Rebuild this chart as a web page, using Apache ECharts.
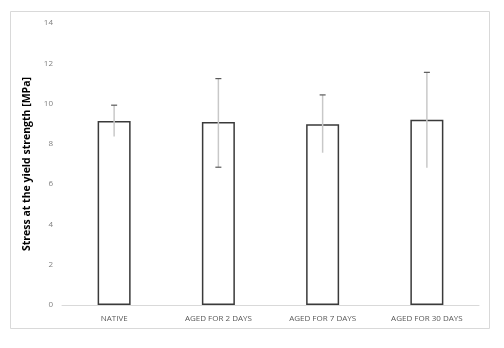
<!DOCTYPE html>
<html>
<head>
<meta charset="utf-8">
<script src="https://cdn.jsdelivr.net/npm/echarts@6/dist/echarts.min.js"></script>
<style>html,body{margin:0;padding:0;background:#fff}#c{width:504px;height:348px}</style>
</head>
<body>
<div id="c"></div>
<script>
const categories = ['NATIVE', 'AGED FOR 2 DAYS', 'AGED FOR 7 DAYS', 'AGED FOR 30 DAYS'];
const meanValues = [9.14, 9.09, 8.97, 9.20];
const errLow = [8.36, 6.84, 7.56, 6.82];
const errHigh = [9.92, 11.24, 10.43, 11.55];
const lowCap = [0, 1, 0, 0];
const yTicks = [0, 2, 4, 6, 8, 10, 12, 14];

const chart = echarts.init(document.getElementById('c'), null, {renderer: 'canvas'});
const errData = categories.map((c, i) => [i, errLow[i], errHigh[i], lowCap[i]]);
chart.setOption({
  animation: false,
  backgroundColor: '#fff',
  graphic: [{
    type: 'rect', shape: {x: 10.5, y: 11.5, width: 479, height: 317},
    style: {fill: 'none', stroke: '#d9d9d9', lineWidth: 1}, silent: true, z: -1
  }],
  grid: {left: 62, right: 25, top: 23, bottom: 43},
  xAxis: {
    type: 'category', data: categories,
    axisLine: {lineStyle: {color: '#d9d9d9', width: 1}},
    axisTick: {show: false},
    axisLabel: {color: '#595959', fontSize: 8, fontFamily: 'Open Sans', margin: 10}
  },
  yAxis: {
    type: 'value', min: yTicks[0], max: yTicks[yTicks.length - 1], interval: 2,
    name: 'Stress at the yield strength [MPa]',
    nameLocation: 'middle', nameGap: 19,
    nameTextStyle: {color: '#000', fontSize: 10.5, fontWeight: 'bold', fontFamily: 'Open Sans'},
    axisLine: {show: false}, axisTick: {show: false}, splitLine: {show: false},
    axisLabel: {color: '#7f7f7f', fontSize: 8, fontFamily: 'Open Sans', margin: 9}
  },
  series: [{
    type: 'bar', data: meanValues, barWidth: 33,
    itemStyle: {color: '#ffffff', borderColor: '#3a3a3a', borderWidth: 1.5}
  }, {
    type: 'custom', data: errData, z: 10,
    renderItem: function (params, api) {
      const x = api.value(0);
      const lo = api.coord([x, api.value(1)]);
      const hi = api.coord([x, api.value(2)]);
      const hw = 3;
      const children = [
        {type: 'line', shape: {x1: lo[0], y1: lo[1], x2: hi[0], y2: hi[1]}, style: {stroke: '#c8c8c8', lineWidth: 1.5}},
        {type: 'line', shape: {x1: hi[0] - hw, y1: hi[1], x2: hi[0] + hw, y2: hi[1]}, style: {stroke: '#595959', lineWidth: 1.2}}
      ];
      if (api.value(3)) {
        children.push({type: 'line', shape: {x1: lo[0] - hw, y1: lo[1], x2: lo[0] + hw, y2: lo[1]}, style: {stroke: '#595959', lineWidth: 1.2}});
      }
      return {type: 'group', children: children};
    }
  }]
});
</script>
</body>
</html>
